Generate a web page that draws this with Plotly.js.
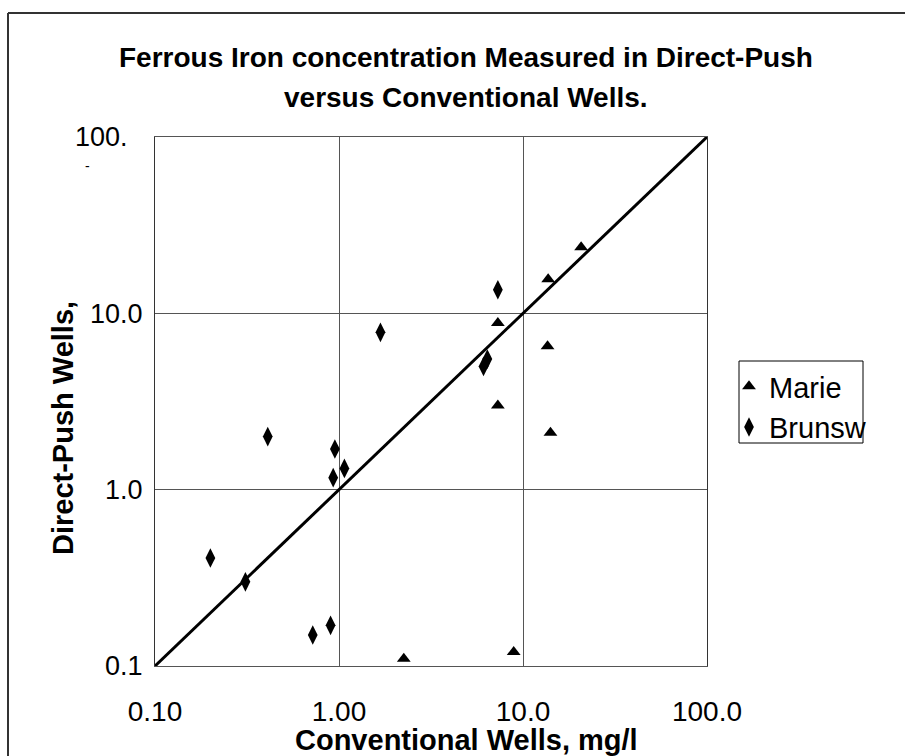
<!DOCTYPE html>
<html>
<head>
<meta charset="utf-8">
<script src="https://cdn.plot.ly/plotly-3.0.1.min.js"></script>
<style>html,body{margin:0;padding:0;background:#fff;}#chart{width:905px;height:756px;}</style>
</head>
<body>
<div id="chart"></div>
<script>
// Data
const marieX = [20.7, 13.7, 7.3, 13.6, 7.3, 14.1, 2.25, 8.9];
const marieY = [23.7, 15.6, 8.8, 6.5, 3.0, 2.1, 0.11, 0.12];
const brunsX = [7.3, 1.68, 6.4, 6.1, 0.41, 0.95, 1.07, 0.93, 0.2, 0.31, 0.72, 0.9];
const brunsY = [13.6, 7.8, 5.5, 5.0, 2.0, 1.7, 1.32, 1.17, 0.41, 0.30, 0.15, 0.17];
const lineX = [0.1, 100];
const lineY = [0.1, 100];
const xTickVals = [0.1, 1, 10, 100];
const xTickText = ["0.10", "1.00", "10.0", "100.0"];
const yTickVals = [0.1, 1, 10, 100];
const yTickText = ["0.1", "1.0", "10.0", "100.\u00a0\u00a0"];
const seriesNames = ["Marie", "Brunsw"];

const W = 905, H = 756;
const L = 155, R = 198, T = 137, B = 90;
const pw = W - L - R, ph = H - T - B;
const px = v => (v - L) / pw;
const py = v => (H - B - v) / ph;
const FONT = '"Liberation Sans", Arial, sans-serif';

const traces = [
  {x: lineX, y: lineY, mode: 'lines', line: {color: '#000', width: 3}, showlegend: false, hoverinfo: 'skip'},
  {x: marieX, y: marieY, mode: 'markers', name: seriesNames[0],
   marker: {symbol: 'triangle-up', size: 12, color: '#000'}},
  {x: brunsX, y: brunsY, mode: 'markers', name: seriesNames[1],
   marker: {symbol: 'diamond-tall', size: 14, color: '#000'}}
];

const layout = {
  width: W, height: H,
  margin: {l: L, r: R, t: T, b: B, pad: 0},
  paper_bgcolor: '#fff', plot_bgcolor: '#fff',
  font: {family: FONT, color: '#000', size: 27},
  showlegend: true,
  legend: {x: px(729), y: py(361), xanchor: 'left', yanchor: 'top',
           font: {size: 29, family: FONT}, bgcolor: 'rgba(0,0,0,0)', borderwidth: 0,
           itemwidth: 30, tracegroupgap: 0},
  xaxis: {type: 'log', range: [-1, 2], tickvals: xTickVals, ticktext: xTickText,
          showgrid: true, gridcolor: '#555', gridwidth: 1, zeroline: false,
          showline: true, linecolor: '#555', linewidth: 1, mirror: true,
          ticks: '', ticklabelstandoff: 20, tickfont: {size: 28, family: FONT}},
  yaxis: {type: 'log', range: [-1, 2], tickvals: yTickVals, ticktext: yTickText,
          showgrid: true, gridcolor: '#555', gridwidth: 1, zeroline: false,
          showline: true, linecolor: '#333', linewidth: 1, mirror: true,
          ticks: '', ticklabelstandoff: 6, tickfont: {size: 27, family: FONT}},
  annotations: [
    {text: '<b>Ferrous Iron concentration Measured in Direct-Push</b>', xref: 'paper', yref: 'paper',
     x: px(466), y: py(57), xanchor: 'center', yanchor: 'middle', showarrow: false,
     font: {size: 28, family: FONT}},
    {text: '<b>versus Conventional Wells.</b>', xref: 'paper', yref: 'paper',
     x: px(466), y: py(98), xanchor: 'center', yanchor: 'middle', showarrow: false,
     font: {size: 28, family: FONT}},
    {text: '<b>Conventional Wells, mg/l</b>', xref: 'paper', yref: 'paper',
     x: px(466), y: py(740), xanchor: 'center', yanchor: 'middle', showarrow: false,
     font: {size: 29, family: FONT}},
    {text: '<b>Direct-Push Wells,</b>', xref: 'paper', yref: 'paper', textangle: -90,
     x: px(63), y: py(428), xanchor: 'center', yanchor: 'middle', showarrow: false,
     font: {size: 29, family: FONT}},
    {text: '-', xref: 'paper', yref: 'paper', x: px(87), y: py(166), xanchor: 'center', yanchor: 'middle',
     showarrow: false, font: {size: 14, family: FONT}}
  ],
  shapes: [
    {type: 'rect', xref: 'paper', yref: 'paper', x0: px(739), x1: px(863), y0: py(443), y1: py(361),
     line: {color: '#000', width: 1}},
    {type: 'line', xref: 'paper', yref: 'paper', x0: px(8), x1: px(905), y0: py(13), y1: py(13),
     line: {color: '#333', width: 2}},
    {type: 'line', xref: 'paper', yref: 'paper', x0: px(8), x1: px(8), y0: py(13), y1: py(756),
     line: {color: '#333', width: 2}}
  ]
};

Plotly.newPlot('chart', traces, layout, {staticPlot: true, displayModeBar: false});
</script>
</body>
</html>
